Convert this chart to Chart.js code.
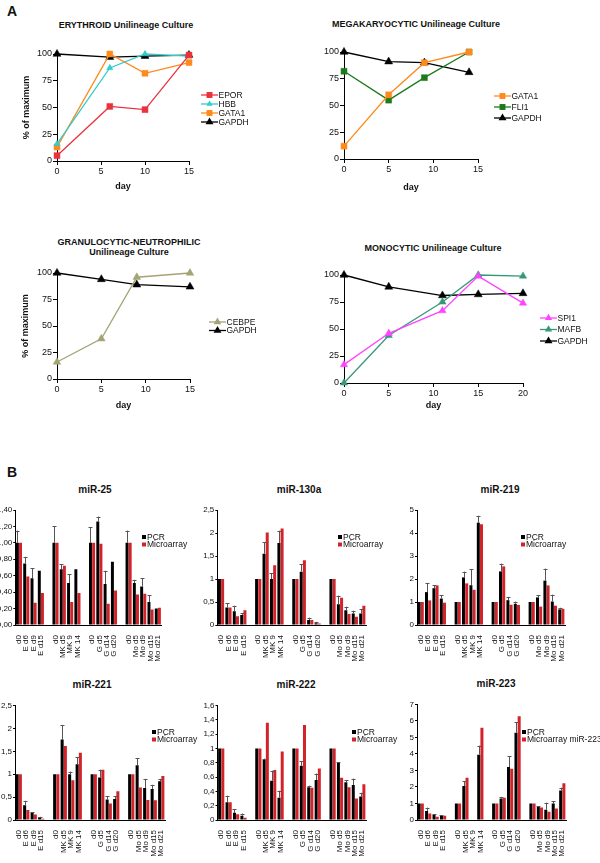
<!DOCTYPE html>
<html><head><meta charset="utf-8">
<script src="https://cdn.jsdelivr.net/npm/chart.js@4.4.1/dist/chart.umd.min.js"></script>
<style>
html,body{margin:0;padding:0;background:#fff;}
#page{position:relative;width:600px;height:863px;overflow:hidden;font-family:"Liberation Sans",Arial,sans-serif;color:#111;background:#fff;}
#page canvas{position:absolute;left:0;top:0;}
.t{position:absolute;transform:translate(-50%,-50%);white-space:nowrap;font-weight:bold;text-align:center;line-height:1.15;}
</style></head><body><div id="page"></div>
<script>
// ---------- DATA: panel A (line charts, % of maximum) ----------
const pctTicks = [0, 25, 50, 75, 100];

const eryDays  = [0, 6, 10, 15];
const eryEPOR  = [5, 51, 48, 99];
const eryHBB   = [16, 87, 100, 98];
const eryGATA1 = [13, 100, 82, 92];
const eryGAPDH = [100, 97, 98, 99];

const megDays  = [0, 5, 9, 14];
const megGATA1 = [12, 60, 90, 100];
const megFLI1  = [82, 55, 76, 100];
const megGAPDH = [100, 91, 90, 81];

const graDays  = [0, 5, 9, 15];
const graCEBPE = [16, 38, 96, 100];
const graGAPDH = [100, 94, 89, 87];

const monDays  = [0, 5, 11, 15, 20];
const monSPI1  = [17, 46, 67, 99, 74];
const monMAFB  = [0, 44, 75, 100, 99];
const monGAPDH = [100, 89, 81, 82, 83];

// ---------- DATA: panel B (bar charts, PCR vs microarray) ----------
const barCats = ['d0','E d6','E d9','E d15','', 'd0','MK d5','MK 9','MK 14','', 'd0','G d5','G d14','G d20','', 'd0','Mo d5','Mo d9','Mo d15','Mo d21'];

const ticks25  = [0, 0.2, 0.4, 0.6, 0.8, 1.0, 1.2, 1.4];
const mir25PCR = [1.00,0.75,0.57,0.66,null, 1.00,0.68,0.51,0.68,null, 1.00,1.26,0.50,0.77,null, 1.00,0.51,0.47,0.28,0.20];
const mir25Err = [1.15,0.83,0.69,null,null, 1.20,0.74,0.62,null,null, 1.19,1.32,0.66,null,null, 1.15,0.55,0.57,0.36,null];
const mir25MA  = [1.00,0.59,0.27,0.39,null, 1.00,0.72,0.28,0.39,null, 1.00,0.99,0.26,0.42,null, 1.00,0.37,0.38,0.19,0.21];

const ticks130  = [0, 0.5, 1, 1.5, 2, 2.5];
const mir130PCR = [1,0.38,0.30,0.22,null, 1,1.55,1.00,1.78,null, 1,1.16,0.11,0.04,null, 1,0.45,0.32,0.25,0.25];
const mir130Err = [null,0.47,0.42,0.26,null, null,1.80,1.12,2.05,null, null,1.32,0.16,0.07,null, null,0.64,0.40,0.31,0.35];
const mir130MA  = [1,0.38,0.19,0.32,null, 1,2.01,1.30,2.10,null, 1,1.41,0.11,0.03,null, 1,0.59,0.24,0.18,0.42];

const ticks219  = [0, 0.5, 1, 1.5, 2, 2.5, 3, 3.5, 4, 4.5, 5];
const mir219PCR = [1,1.43,1.60,1.15,null, 1,2.07,1.73,4.45,null, 1,2.33,1.08,0.92,null, 1,1.20,1.93,1.02,0.68];
const mir219Err = [null,1.83,1.72,1.30,null, null,2.32,2.43,4.75,null, null,2.67,1.22,1.02,null, null,1.30,2.45,1.32,0.75];
const mir219MA  = [1,1.07,1.72,0.97,null, 1,1.81,1.53,4.38,null, 1,2.55,0.88,0.87,null, 1,0.80,1.72,0.84,0.70];

const ticks221  = [0, 0.5, 1, 1.5, 2, 2.5];
const mir221PCR = [1,0.32,0.16,0.06,null, 1,1.76,1.00,1.22,null, 1,0.93,0.45,0.46,null, 1,1.20,0.70,0.68,0.85];
const mir221Err = [null,0.42,0.17,0.07,null, null,2.07,1.06,1.38,null, null,1.10,0.52,0.52,null, null,1.35,0.90,0.77,0.90];
const mir221MA  = [1,0.22,0.12,0.03,null, 1,1.62,0.87,1.47,null, 1,1.10,0.36,0.63,null, 1,0.71,0.44,0.43,0.96];

const ticks222  = [0, 0.2, 0.4, 0.6, 0.8, 1, 1.2, 1.4, 1.6];
const mir222PCR = [1,0.25,0.10,0.06,null, 1,0.84,0.55,0.31,null, 1,0.76,0.46,0.56,null, 1,0.80,0.53,0.49,0.33];
const mir222Err = [null,0.34,0.15,0.09,null, null,0.86,0.69,0.41,null, null,0.82,0.48,0.65,null, null,0.81,0.56,0.58,0.38];
const mir222MA  = [1,0.25,0.08,0.03,null, 1,1.36,0.70,0.96,null, 1,1.33,0.45,0.72,null, 1,0.59,0.46,0.30,0.50];

const ticks223  = [0, 1, 2, 3, 4, 5, 6, 7];
const mir223PCR = [1,0.55,0.30,0.25,null, 1,2.05,null,3.95,null, 1,1.30,3.20,5.28,null, 1,0.78,0.62,1.00,1.78];
const mir223Err = [null,0.75,0.36,0.30,null, null,2.35,null,4.50,null, null,1.40,3.85,5.93,null, null,0.82,1.05,1.12,1.95];
const mir223MA  = [1,0.40,0.20,0.25,null, 1,2.55,null,5.58,null, 1,1.35,3.10,6.28,null, 1,0.75,0.50,0.70,2.22];

// ---------- rendering ----------
const FONT = '"Liberation Sans", Arial, sans-serif';
Chart.defaults.font.family = FONT;
Chart.defaults.color = '#111';
const page = document.getElementById('page');
const W = 600, H = 863;

function addText(txt, x, y, size){
  const d = document.createElement('div');
  d.className = 't'; d.style.left = x + 'px'; d.style.top = y + 'px'; d.style.fontSize = size + 'px';
  d.innerHTML = txt; page.appendChild(d);
}

function drawMarker(ctx, style, x, y, r, color){
  ctx.save(); ctx.fillStyle = color; ctx.beginPath();
  if (style === 'rect') { const s = r * Math.SQRT1_2; ctx.rect(x - s, y - s, 2*s, 2*s); }
  else { ctx.moveTo(x, y - r); ctx.lineTo(x + 0.866*r, y + 0.5*r); ctx.lineTo(x - 0.866*r, y + 0.5*r); ctx.closePath(); }
  ctx.fill(); ctx.restore();
}

const legendAt = { id: 'legendAt', afterDraw(chart, args, o){
  if (!o || o.x == null) return;
  const ctx = chart.ctx; ctx.save();
  ctx.font = (o.size || 8.5) + 'px ' + FONT; ctx.textBaseline = 'middle'; ctx.textAlign = 'left';
  chart.data.datasets.forEach((ds, i) => {
    const y = o.y + i * o.dy;
    if (o.kind === 'line') {
      ctx.strokeStyle = ds.borderColor; ctx.lineWidth = 1.3;
      ctx.beginPath(); ctx.moveTo(o.x, y); ctx.lineTo(o.x + 17, y); ctx.stroke();
      drawMarker(ctx, ds.pointStyle, o.x + 8.5, y, ds.pointRadius, ds.backgroundColor);
      ctx.fillStyle = '#111'; ctx.fillText(ds.label, o.x + 17.5, y + 0.5);
    } else {
      ctx.fillStyle = ds.backgroundColor; ctx.fillRect(o.x, y - 2, 4, 4);
      ctx.fillStyle = '#111'; ctx.fillText(ds.label, o.x + 5, y + 0.5);
    }
  });
  ctx.restore();
}};

const errorBars = { id: 'errorBars', afterDatasetsDraw(chart){
  const ctx = chart.ctx, ys = chart.scales.y;
  chart.data.datasets.forEach((ds, di) => {
    if (!ds.errorTop) return;
    const meta = chart.getDatasetMeta(di);
    meta.data.forEach((el, i) => {
      const e = ds.errorTop[i];
      if (e == null || ds.data[i] == null) return;
      const y1 = ys.getPixelForValue(e);
      const x = Math.round(el.x) + 0.5;
      ctx.save(); ctx.strokeStyle = '#555'; ctx.lineWidth = 1;
      ctx.beginPath(); ctx.moveTo(x, el.y); ctx.lineTo(x, y1);
      ctx.moveTo(x - 2, Math.round(y1) + 0.5); ctx.lineTo(x + 2, Math.round(y1) + 0.5); ctx.stroke();
      ctx.restore();
    });
  });
}};
Chart.register(legendAt, errorBars);

function newCanvas(){
  const cv = document.createElement('canvas'); cv.width = W; cv.height = H;
  cv.style.width = W + 'px'; cv.style.height = H + 'px'; page.appendChild(cv); return cv;
}

function lineChart(p){
  const lh = 9 * 1.2;
  new Chart(newCanvas(), {
    type: 'line',
    data: { datasets: p.series.map(s => ({
      label: s.label, data: p.days.map((d, i) => ({ x: d, y: s.values[i] })),
      borderColor: s.color, backgroundColor: s.color, pointBackgroundColor: s.color, pointBorderColor: s.color,
      pointStyle: s.marker, pointRadius: s.r, pointBorderWidth: 0.5, borderWidth: 1.3, tension: 0, clip: false
    })) },
    options: {
      animation: false, responsive: false, events: [],
      layout: { padding: { left: 0, top: p.plot[1], right: W - p.plot[2], bottom: 0 } },
      plugins: { legend: { display: false }, tooltip: { enabled: false },
        legendAt: { x: p.legend[0], y: p.legend[1], dy: p.legend[2], kind: 'line', size: 8.5 } },
      scales: {
        x: { type: 'linear', min: 0, max: p.xmax,
          ticks: { stepSize: 5, font: { size: 9 }, color: '#111', padding: 1, maxRotation: 0 },
          grid: { drawOnChartArea: false, tickLength: 4, color: '#000', tickColor: '#000' },
          border: { color: '#000', width: 1 },
          title: { display: true, text: 'day', font: { size: 9, weight: 'bold' }, color: '#111', padding: { top: 0, bottom: H - p.dayY - lh/2 } },
          afterFit(s){ s.height = H - p.plot[3]; } },
        y: { min: 0, max: 100,
          afterBuildTicks(s){ s.ticks = pctTicks.map(v => ({ value: v })); },
          ticks: { font: { size: 9 }, color: '#111', padding: 1 },
          grid: { drawOnChartArea: false, tickLength: 4, color: '#000', tickColor: '#000' },
          border: { color: '#000', width: 1 },
          title: { display: !!p.ytitle, text: '% of maximum', font: { size: 9, weight: 'bold' }, color: '#111', padding: { top: (p.ytitle || 20) - lh/2, bottom: 0 } },
          afterFit(s){ s.width = p.plot[0]; } }
      }
    }
  });
}

function fmt(v, dec){
  if (dec) return v.toFixed(dec).replace('.', ',');
  return String(+v.toFixed(2)).replace('.', ',');
}

function barChart(p){
  new Chart(newCanvas(), {
    type: 'bar',
    data: { labels: barCats, datasets: [
      { label: 'PCR', data: p.pcr, errorTop: p.err, backgroundColor: '#000', borderWidth: 0, categoryPercentage: 0.86, barPercentage: 0.94 },
      { label: p.maLabel, data: p.ma, backgroundColor: '#d2232a', borderWidth: 0, categoryPercentage: 0.86, barPercentage: 0.94 }
    ] },
    options: {
      animation: false, responsive: false, events: [],
      layout: { padding: { left: 0, top: p.plot[1], right: W - p.plot[2], bottom: 0 } },
      plugins: { legend: { display: false }, tooltip: { enabled: false },
        legendAt: { x: p.legend[0], y: p.legend[1], dy: p.legend[2], kind: 'bar', size: 8.5 } },
      scales: {
        x: { ticks: { font: { size: 8 }, color: '#111', minRotation: 90, maxRotation: 90, autoSkip: false, padding: 2 },
          grid: { display: false }, border: { display: true, color: '#000', width: 1 },
          afterFit(s){ s.height = H - p.plot[3]; } },
        y: { min: 0, max: p.ticks[p.ticks.length - 1],
          afterBuildTicks(s){ s.ticks = p.ticks.map(v => ({ value: v })); },
          ticks: { font: { size: 8 }, color: '#111', padding: 1, callback: v => fmt(v, p.dec) },
          grid: { drawOnChartArea: false, tickLength: 2, color: '#000', tickColor: '#000' },
          border: { color: '#000', width: 1 },
          afterFit(s){ s.width = p.plot[0]; } }
      }
    }
  });
}

// panel letters and titles
addText('A', 12, 11, 14);
addText('B', 12, 472, 14);
addText('ERYTHROID Unilineage Culture', 126, 25, 9);
addText('MEGAKARYOCYTIC Unilineage Culture', 416, 24, 9);
addText('GRANULOCYTIC-NEUTROPHILIC<br>Unilineage Culture', 129, 247, 9);
addText('MONOCYTIC Unilineage Culture', 433, 248, 9);
addText('miR-25', 95, 490, 10);
addText('miR-130a', 299, 490, 10);
addText('miR-219', 500, 490, 10);
addText('miR-221', 92, 685, 10);
addText('miR-222', 296, 685, 10);
addText('miR-223', 496, 684, 10);

const cRed = '#e8333f', cCyan = '#33cccc', cOrange = '#ff8a1c', cBlack = '#000',
      cGreen = '#1d7a1d', cOlive = '#a3a374', cMag = '#ff44ff', cTeal = '#33997a';

lineChart({ plot: [57, 54, 189, 161], legend: [201, 95, 9], dayY: 187, ytitle: 27, xmax: 15, days: eryDays, series: [
  { label: 'EPOR', values: eryEPOR, color: cRed, marker: 'rect', r: 4.2 },
  { label: 'HBB', values: eryHBB, color: cCyan, marker: 'triangle', r: 3.6 },
  { label: 'GATA1', values: eryGATA1, color: cOrange, marker: 'rect', r: 4.2 },
  { label: 'GAPDH', values: eryGAPDH, color: cBlack, marker: 'triangle', r: 4.6 } ] });

lineChart({ plot: [344, 52, 478, 159], legend: [494, 96, 11], dayY: 188, xmax: 15, days: megDays, series: [
  { label: 'GATA1', values: megGATA1, color: cOrange, marker: 'rect', r: 4.2 },
  { label: 'FLI1', values: megFLI1, color: cGreen, marker: 'rect', r: 4.2 },
  { label: 'GAPDH', values: megGAPDH, color: cBlack, marker: 'triangle', r: 4.6 } ] });

lineChart({ plot: [57, 273, 190, 379], legend: [209, 322, 8.5], dayY: 406, ytitle: 26, xmax: 15, days: graDays, series: [
  { label: 'CEBPE', values: graCEBPE, color: cOlive, marker: 'triangle', r: 4.4 },
  { label: 'GAPDH', values: graGAPDH, color: cBlack, marker: 'triangle', r: 4.6 } ] });

lineChart({ plot: [344, 275, 523, 383], legend: [540, 318, 11.5], dayY: 406, xmax: 20, days: monDays, series: [
  { label: 'SPI1', values: monSPI1, color: cMag, marker: 'triangle', r: 4.2 },
  { label: 'MAFB', values: monMAFB, color: cTeal, marker: 'triangle', r: 4.2 },
  { label: 'GAPDH', values: monGAPDH, color: cBlack, marker: 'triangle', r: 4.6 } ] });

barChart({ plot: [15.3, 510, 161.5, 625], legend: [142, 537, 7.5], ticks: ticks25, dec: 2, pcr: mir25PCR, err: mir25Err, ma: mir25MA, maLabel: 'Microarray' });
barChart({ plot: [217.3, 510, 366, 625], legend: [338, 537, 7.5], ticks: ticks130, pcr: mir130PCR, err: mir130Err, ma: mir130MA, maLabel: 'Microarray' });
barChart({ plot: [417, 510, 565, 625], legend: [521, 537, 7.5], ticks: ticks219, pcr: mir219PCR, err: mir219Err, ma: mir219MA, maLabel: 'Microarray' });
barChart({ plot: [15, 705.7, 165, 820], legend: [152, 732, 7.5], ticks: ticks221, pcr: mir221PCR, err: mir221Err, ma: mir221MA, maLabel: 'Microarray' });
barChart({ plot: [217.5, 705.7, 366, 820], legend: [352, 732, 7.5], ticks: ticks222, pcr: mir222PCR, err: mir222Err, ma: mir222MA, maLabel: 'Microarray' });
barChart({ plot: [417, 704.3, 566, 820], legend: [522, 732, 7.5], ticks: ticks223, pcr: mir223PCR, err: mir223Err, ma: mir223MA, maLabel: 'Microarray miR-223' });
</script></body></html>
